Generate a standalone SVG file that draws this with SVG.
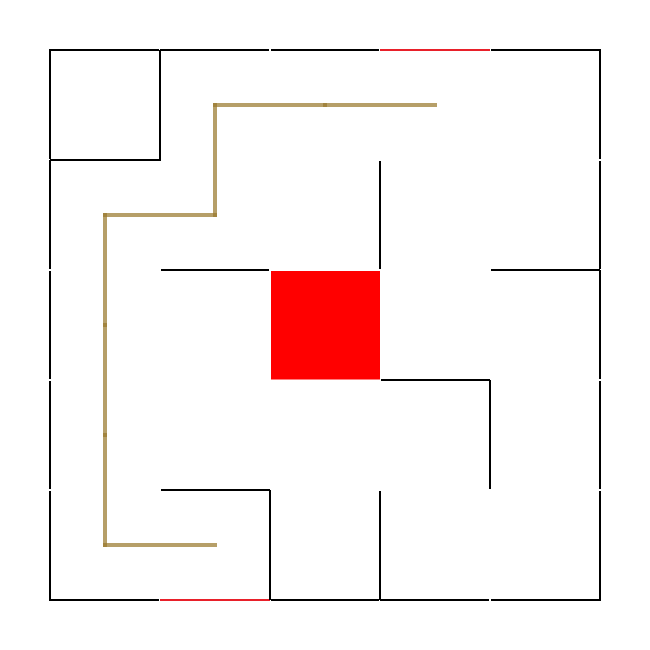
<svg xmlns="http://www.w3.org/2000/svg" width="650" height="650" viewBox="0 0 650 650">
<style>
.w{stroke:#000;stroke-width:2;fill:none;stroke-linecap:butt}
.r{stroke:#e8202a;stroke-width:2;fill:none}
.p{stroke:#9a7a2e;stroke-opacity:0.72;stroke-width:4;fill:none;stroke-linecap:square}
</style>
<rect width="650" height="650" fill="#fff"/>
<g id="walls">
<line class="w" x1="49" y1="50" x2="159" y2="50"/>
<line class="w" x1="160" y1="50" x2="269" y2="50"/>
<line class="w" x1="271" y1="50" x2="379" y2="50"/>
<line class="r" x1="380" y1="50" x2="490" y2="50"/>
<line class="w" x1="491" y1="50" x2="601" y2="50"/>
<line class="w" x1="49" y1="600" x2="159" y2="600"/>
<line class="r" x1="160" y1="600" x2="270" y2="600"/>
<line class="w" x1="271" y1="600" x2="379" y2="600"/>
<line class="w" x1="380" y1="600" x2="489" y2="600"/>
<line class="w" x1="491" y1="600" x2="601" y2="600"/>
<line class="w" x1="50" y1="49" x2="50" y2="159"/>
<line class="w" x1="50" y1="160" x2="50" y2="269"/>
<line class="w" x1="50" y1="271" x2="50" y2="379"/>
<line class="w" x1="50" y1="381" x2="50" y2="489"/>
<line class="w" x1="50" y1="491" x2="50" y2="601"/>
<line class="w" x1="600" y1="49" x2="600" y2="159"/>
<line class="w" x1="600" y1="161" x2="600" y2="269"/>
<line class="w" x1="600" y1="270" x2="600" y2="379"/>
<line class="w" x1="600" y1="381" x2="600" y2="489"/>
<line class="w" x1="600" y1="491" x2="600" y2="601"/>
<line class="w" x1="50" y1="160" x2="159" y2="160"/>
<line class="w" x1="161" y1="270" x2="269" y2="270"/>
<line class="w" x1="491" y1="270" x2="600" y2="270"/>
<line class="w" x1="381" y1="380" x2="490" y2="380"/>
<line class="w" x1="161" y1="490" x2="270" y2="490"/>
<line class="w" x1="160" y1="50" x2="160" y2="161"/>
<line class="w" x1="380" y1="161" x2="380" y2="269"/>
<line class="w" x1="490" y1="380" x2="490" y2="489"/>
<line class="w" x1="270" y1="490" x2="270" y2="600"/>
<line class="w" x1="380" y1="491" x2="380" y2="600"/>
</g>
<g id="goal">
<rect x="271" y="271" width="109" height="108.5" fill="#ff0000"/>
</g>
<g id="path">
<line class="p" x1="435" y1="105" x2="325" y2="105"/>
<line class="p" x1="325" y1="105" x2="215" y2="105"/>
<line class="p" x1="215" y1="105" x2="215" y2="215"/>
<line class="p" x1="215" y1="215" x2="105" y2="215"/>
<line class="p" x1="105" y1="215" x2="105" y2="325"/>
<line class="p" x1="105" y1="325" x2="105" y2="435"/>
<line class="p" x1="105" y1="435" x2="105" y2="545"/>
<line class="p" x1="105" y1="545" x2="215" y2="545"/>
</g>
</svg>
